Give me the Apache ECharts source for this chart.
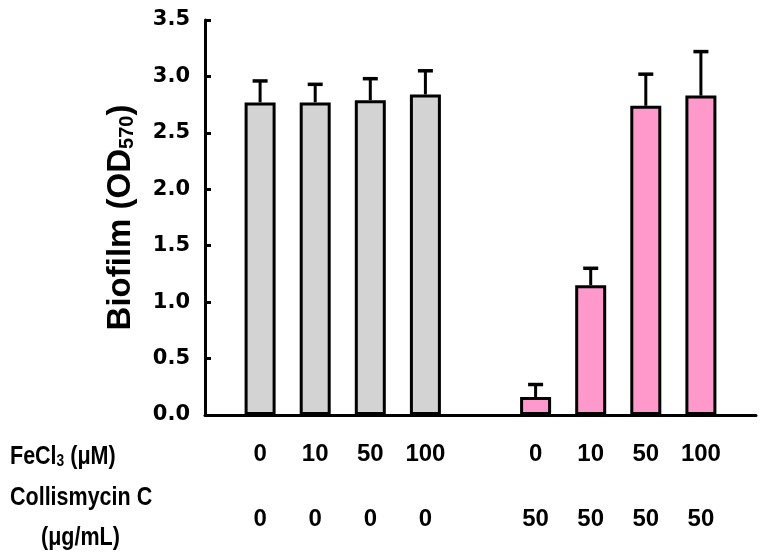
<!DOCTYPE html>
<html>
<head>
<meta charset="utf-8">
<script src="https://cdn.jsdelivr.net/npm/echarts@6/dist/echarts.min.js"></script>
<style>html,body{margin:0;padding:0;background:#fff}#c{width:765px;height:553px}</style>
</head>
<body>
<div id="c"></div>
<script>
// ---- data ----
var feLabels = ['0', '10', '50', '100'];
var controlCol = ['0', '0', '0', '0'];
var treatedCol = ['50', '50', '50', '50'];
var controlMean = [2.77, 2.77, 2.79, 2.84];
var controlErr = [0.19, 0.16, 0.19, 0.21];
var treatedMean = [0.16, 1.15, 2.74, 2.83];
var treatedErr = [0.11, 0.15, 0.28, 0.39];
var yTicks = ['0.0', '0.5', '1.0', '1.5', '2.0', '2.5', '3.0', '3.5'];

// ---- build categories: spacer, control group, spacer, treated group, spacer ----
var catFe = [''].concat(feLabels, [''], feLabels, ['']);
var catCol = [''].concat(controlCol, [''], treatedCol, ['']);
var n = catFe.length;
function fill(start, vals) {
  var arr = [];
  for (var i = 0; i < n; i++) arr.push('-');
  vals.forEach(function (v, k) { arr[start + k] = v; });
  return arr;
}
var grayData = fill(1, controlMean);
var pinkData = fill(6, treatedMean);
var errData = [];
controlMean.forEach(function (m, k) { errData.push([1 + k, m, m + controlErr[k]]); });
treatedMean.forEach(function (m, k) { errData.push([6 + k, m, m + treatedErr[k]]); });

var FONT = '"Liberation Sans", Arial, sans-serif';
var chart = echarts.init(document.getElementById('c'), null, { renderer: 'canvas' });
chart.setOption({
  backgroundColor: '#ffffff',
  animation: false,
  grid: { left: 205, right: 9, top: 20, bottom: 138, containLabel: false },
  xAxis: [{
    type: 'category', data: catFe, boundaryGap: false,
    axisLine: { lineStyle: { color: '#000', width: 3 } },
    axisTick: { show: false },
    axisLabel: { interval: 0, color: '#000', fontFamily: FONT, fontWeight: 'bold', fontSize: 24, margin: 27 }
  }, {
    type: 'category', data: catCol, boundaryGap: false, position: 'bottom', offset: 65,
    axisLine: { show: false }, axisTick: { show: false },
    axisLabel: { interval: 0, color: '#000', fontFamily: FONT, fontWeight: 'bold', fontSize: 24, margin: 27 }
  }],
  yAxis: {
    type: 'value', min: 0, max: 3.5, interval: 0.5,
    name: '{a|Biofilm (OD}{s|570}{a|)}', nameLocation: 'middle', nameGap: 68,
    nameTextStyle: {
      rich: {
        a: { fontFamily: FONT, fontWeight: 'bold', fontSize: 33, color: '#000', verticalAlign: 'bottom', lineHeight: 38 },
        s: { fontFamily: FONT, fontWeight: 'bold', fontSize: 20, color: '#000', verticalAlign: 'bottom', lineHeight: 32 }
      }
    },
    axisLine: { show: true, lineStyle: { color: '#000', width: 3 } },
    axisTick: { show: true, inside: true, length: 6, lineStyle: { color: '#000', width: 3 } },
    splitLine: { show: false },
    axisLabel: {
      color: '#000', fontFamily: '"DejaVu Sans", sans-serif', fontWeight: 'bold', fontSize: 21, margin: 15,
      formatter: function (v) { return yTicks[Math.round(v / 0.5)]; }
    }
  },
  graphic: [
    { type: 'text', x: 10, y: 441, scaleX: 0.86, style: { text: '{a|FeCl}{s|3}{a| (μM)}', rich: {
      a: { fontFamily: FONT, fontWeight: 'bold', fontSize: 25, fill: '#000', verticalAlign: 'bottom', lineHeight: 29 },
      s: { fontFamily: FONT, fontWeight: 'bold', fontSize: 16, fill: '#000', verticalAlign: 'bottom', lineHeight: 25 } } } },
    { type: 'text', x: 10, y: 486, scaleX: 0.86, style: { text: 'Collismycin C', fontFamily: FONT, fontWeight: 'bold', fontSize: 25, fill: '#000' } },
    { type: 'text', x: 41, y: 526, scaleX: 0.86, style: { text: '(μg/mL)', fontFamily: FONT, fontWeight: 'bold', fontSize: 25, fill: '#000' } }
  ],
  series: [{
    type: 'bar', data: grayData, barWidth: 31, barGap: '-100%', z: 2,
    itemStyle: { color: '#d3d3d3', borderColor: '#000', borderWidth: 3 }
  }, {
    type: 'bar', data: pinkData, barWidth: 31, barGap: '-100%', z: 2,
    itemStyle: { color: '#ff99cc', borderColor: '#000', borderWidth: 3 }
  }, {
    type: 'custom', data: errData, z: 3,
    encode: { x: 0, y: [1, 2] },
    renderItem: function (params, api) {
      var p0 = api.coord([api.value(0), api.value(1)]);
      var p1 = api.coord([api.value(0), api.value(2)]);
      var half = 7.5;
      return {
        type: 'group', children: [
          { type: 'line', shape: { x1: p0[0], y1: p0[1], x2: p1[0], y2: p1[1] }, style: { stroke: '#000', lineWidth: 3 } },
          { type: 'line', shape: { x1: p1[0] - half, y1: p1[1], x2: p1[0] + half, y2: p1[1] }, style: { stroke: '#000', lineWidth: 3.5 } }
        ]
      };
    }
  }]
});
</script>
</body>
</html>
